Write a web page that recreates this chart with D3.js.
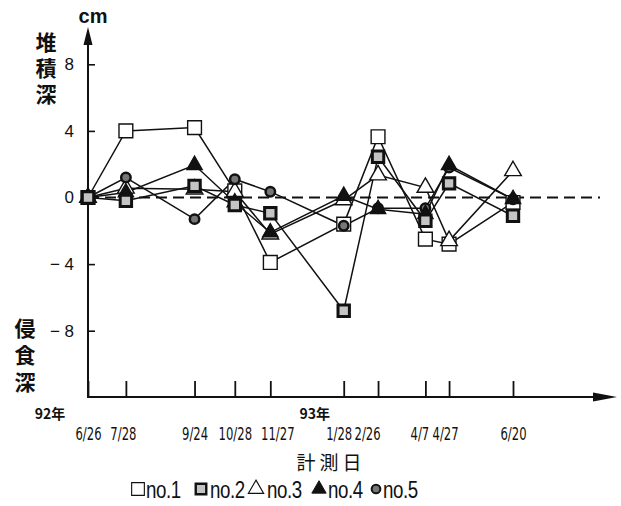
<!DOCTYPE html>
<html>
<head>
<meta charset="utf-8">
<script src="https://cdn.jsdelivr.net/npm/d3@7"></script>
<style>
  body { margin: 0; background: #fff; }
  svg  { display: block; }
  .jp  { font-family: "Noto Sans CJK JP", sans-serif; }
</style>
</head>
<body>
<div id="chart"></div>
<script>
/* ── DATA ── */
const dates      = ['1992-06-26','1992-07-28','1992-09-24','1992-10-28','1992-11-27',
                    '1993-01-28','1993-02-26','1993-04-07','1993-04-27','1993-06-20'];
const dateLabels = ['6/26','7/28','9/24','10/28','11/27','1/28','2/26','4/7','4/27','6/20'];
const yTicks     = [-8, -4, 0, 4, 8];

const no1 = [0, 4.0, 4.2, 0.4, -3.9, -1.6, 3.65, -2.5, -2.8, -0.3];
const no2 = [0, -0.2, 0.7, -0.45, -0.95, -6.8, 2.45, -1.4, 0.85, -1.1];
const no3 = [0, 0.55, 0.5, 0.35, -2.2, -0.15, 1.35, 0.6, -2.6, 1.6];
const no4 = [0, 0.3, 1.95, -0.3, -2.1, 0.1, -0.7, -1.0, 1.95, -0.1];
const no5 = [0, 1.2, -1.3, 1.1, 0.35, -1.7, -0.65, -0.65, 1.8, -0.1];

const seriesNames = ['no.1', 'no.2', 'no.3', 'no.4', 'no.5'];

// small nudges of the date labels, as set in the original print
const labelShift = [0, -3, 0, 0, 7, -5, -11, -6, -4, 0];

/* ── STYLE PER SERIES ── */
const parse = d3.timeParse('%Y-%m-%d');
const sym = {
  'no.1': { type: d3.symbolSquare,   size: 190, fill: '#fff',  stroke: '#111', sw: 1.4 },
  'no.2': { type: d3.symbolSquare,   size: 130, fill: '#c4c4c4', stroke: '#111', sw: 3 },
  'no.3': { type: d3.symbolTriangle, size: 120, fill: '#fff',  stroke: '#111', sw: 1.4 },
  'no.4': { type: d3.symbolTriangle, size: 105, fill: '#111',  stroke: '#111', sw: 1.2 },
  'no.5': { type: d3.symbolCircle,   size: 70,  fill: '#777',  stroke: '#111', sw: 2.5 },
};

const series = [
  { name: 'no.1', values: no1 },
  { name: 'no.2', values: no2 },
  { name: 'no.3', values: no3 },
  { name: 'no.4', values: no4 },
  { name: 'no.5', values: no5 },
].map(s => ({ name: s.name, pts: s.values.map((v, i) => ({ date: parse(dates[i]), v })) }));

/* ── SCALES ── */
const W = 621, H = 506;
const x = d3.scaleTime().domain([parse(dates[0]), parse(dates[dates.length - 1])]).range([88, 513]);
const y = d3.scaleLinear().domain([-8, 8]).range([330.7, 64.3]);
const baseY = 397;

const svg = d3.select('#chart').append('svg').attr('width', W).attr('height', H);
svg.append('rect').attr('width', W).attr('height', H).attr('fill', '#fff');

/* ── ZERO LINE ── */
svg.append('line')
  .attr('x1', x.range()[0]).attr('x2', 600)
  .attr('y1', y(0)).attr('y2', y(0))
  .attr('stroke', '#111').attr('stroke-width', 2).attr('stroke-dasharray', '11,6');

/* ── AXES ── */
const yAxis = svg.append('g').attr('transform', `translate(${x.range()[0]},0)`)
  .call(d3.axisLeft(y).tickValues(yTicks).tickSize(-7).tickPadding(14)
    .tickFormat(d => d < 0 ? '\u2212 ' + Math.abs(d) : d));
yAxis.select('.domain').remove();
yAxis.selectAll('line').attr('stroke', '#111').attr('stroke-width', 1.6);
yAxis.selectAll('text').attr('font-family', 'Liberation Sans, Arial, sans-serif')
  .attr('font-size', 17).attr('fill', '#111');

const xAxis = svg.append('g').attr('transform', `translate(0,${baseY})`)
  .call(d3.axisBottom(x).tickValues(dates.map(parse)).tickSize(-16).tickPadding(31)
    .tickFormat((d, i) => dateLabels[i]));
xAxis.select('.domain').remove();
xAxis.selectAll('line').attr('stroke', '#111').attr('stroke-width', 1.8);
xAxis.selectAll('text')
  .attr('font-family', '"DejaVu Sans Condensed", "DejaVu Sans", sans-serif')
  .attr('font-size', 17).attr('fill', '#111')
  .attr('transform', (d, i) => `translate(${labelShift[i]},0) scale(0.76,1)`);

// axis lines with arrows
const x0 = x.range()[0];
svg.append('line').attr('x1', x0).attr('x2', x0).attr('y1', baseY + 1).attr('y2', 38)
  .attr('stroke', '#111').attr('stroke-width', 2);
svg.append('path').attr('d', `M${x0},27 L${x0 - 4.5},45 L${x0 + 4.5},45 Z`).attr('fill', '#111');
svg.append('line').attr('x1', x0 - 1).attr('x2', 600).attr('y1', baseY).attr('y2', baseY)
  .attr('stroke', '#111').attr('stroke-width', 2);
svg.append('path').attr('d', `M617,${baseY} L593,${baseY - 4.5} L593,${baseY + 4.5} Z`).attr('fill', '#111');

/* ── LINES ── */
const line = d3.line().x(d => x(d.date)).y(d => y(d.v));
svg.append('g').selectAll('path').data(series).enter().append('path')
  .attr('d', d => line(d.pts))
  .attr('fill', 'none').attr('stroke', '#111').attr('stroke-width', 1.5);

/* ── MARKERS ── */
const order = ['no.1', 'no.3', 'no.5', 'no.4', 'no.2'];
order.forEach(n => {
  const s = series.find(d => d.name === n);
  const st = sym[n];
  svg.append('g').selectAll('path').data(s.pts).enter().append('path')
    .attr('d', d3.symbol().type(st.type).size(st.size))
    .attr('transform', d => `translate(${x(d.date)},${y(d.v)})`)
    .attr('fill', st.fill).attr('stroke', st.stroke).attr('stroke-width', st.sw);
});

/* ── TEXT LABELS ── */
svg.append('text').attr('x', 93).attr('y', 23).attr('text-anchor', 'middle')
  .attr('font-family', 'Liberation Sans, Arial, sans-serif').attr('font-weight', 'bold')
  .attr('font-size', 20).attr('fill', '#111').text('cm');

// vertical titles, written top to bottom
function vertical(str, cx, top, gap) {
  svg.append('text').attr('class', 'jp')
    .attr('x', cx).attr('y', top)
    .attr('writing-mode', 'vertical-rl')
    .attr('letter-spacing', gap)
    .attr('font-size', 21).attr('font-weight', 'bold').attr('fill', '#111').text(str);
}
vertical('堆積深', 46, 32, 5);
vertical('侵食深', 25, 318, 6);

svg.append('text').attr('class', 'jp').attr('x', 50).attr('y', 419).attr('text-anchor', 'middle')
  .attr('font-size', 14).attr('font-weight', 'bold').attr('fill', '#111').text('92年');
svg.append('text').attr('class', 'jp').attr('x', x(parse('1993-01-01')) + 3).attr('y', 419)
  .attr('text-anchor', 'middle')
  .attr('font-size', 14).attr('font-weight', 'bold').attr('fill', '#111').text('93年');

svg.append('text').attr('class', 'jp').attr('x', 331).attr('y', 470).attr('text-anchor', 'middle')
  .attr('font-size', 19).attr('letter-spacing', 4).attr('fill', '#111').text('計測日');

/* ── LEGEND ── */
const legendX = [138, 201, 256, 319, 376];
const legendTextX = [146, 210, 267, 328, 383];
seriesNames.forEach((n, i) => {
  const st = sym[n];
  svg.append('path')
    .attr('d', d3.symbol().type(st.type).size(st.size * 0.85))
    .attr('transform', `translate(${legendX[i]},${489})`)
    .attr('fill', st.fill).attr('stroke', st.stroke).attr('stroke-width', st.sw * 0.8);
  svg.append('text')
    .attr('transform', `translate(${legendTextX[i]},498) scale(0.78,1)`)
    .attr('font-family', 'Liberation Sans, Arial, sans-serif').attr('font-size', 24)
    .attr('letter-spacing', -0.5).attr('fill', '#111').text(n);
});
</script>
</body>
</html>
